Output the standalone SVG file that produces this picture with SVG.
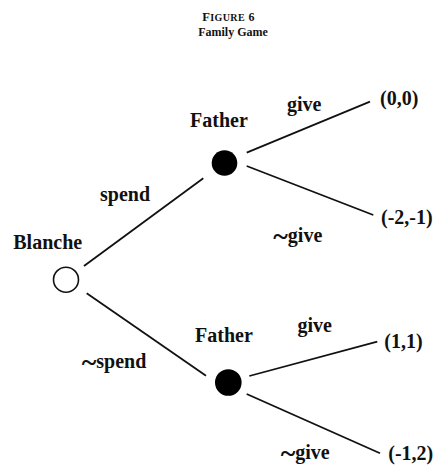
<svg xmlns="http://www.w3.org/2000/svg" width="442" height="469" viewBox="0 0 442 469">
  <style>
    text { font-family: "Liberation Serif", "Times New Roman", serif; font-weight: bold; fill: #111; }
    .lbl { font-size: 20px; }
    .title { font-size: 12px; }
    .edge { stroke: #111; stroke-width: 1.8; fill: none; stroke-linecap: butt; }
    .chance { fill: #fff; stroke: #111; stroke-width: 1.6; }
    .dec { fill: #000; stroke: none; }
    .tl { font-size: 28px; }
  </style>
  <rect width="442" height="469" fill="#fff"/>

  <g id="title">
    <text class="title" x="228.5" y="21" text-anchor="middle" letter-spacing="0.4"><tspan font-size="12.5">F</tspan><tspan font-size="10">IGURE</tspan> 6</text>
    <text class="title" x="233" y="36" text-anchor="middle">Family Game</text>
  </g>

  <g id="connectors">
    <line class="edge" x1="84" y1="266" x2="203.3" y2="178.3"/>
    <line class="edge" x1="86.7" y1="293.3" x2="206" y2="375.7"/>
    <line class="edge" x1="246.7" y1="152.7" x2="370" y2="101.7"/>
    <line class="edge" x1="246.7" y1="166" x2="373.3" y2="215"/>
    <line class="edge" x1="249.3" y1="376" x2="377.3" y2="341.7"/>
    <line class="edge" x1="246.7" y1="394" x2="380" y2="453.3"/>
    <text class="lbl" x="100" y="200.5">spend</text>
    <text class="lbl" x="81.7" y="368.3"><tspan class="tl" dy="3">~</tspan><tspan dy="-3">spend</tspan></text>
    <text class="lbl" x="287" y="110.7">give</text>
    <text class="lbl" x="273.3" y="241.7"><tspan class="tl" dy="3">~</tspan><tspan dy="-3">give</tspan></text>
    <text class="lbl" x="297.5" y="332">give</text>
    <text class="lbl" x="280.7" y="459.3"><tspan class="tl" dy="3">~</tspan><tspan dy="-3">give</tspan></text>
  </g>

  <g id="blanche">
    <circle class="chance" cx="66" cy="279.7" r="12.5"/>
    <text class="lbl" x="47.7" y="249.3" text-anchor="middle">Blanche</text>
  </g>

  <g id="father-top">
    <circle class="dec" cx="224.5" cy="163" r="12.8"/>
    <text class="lbl" x="219" y="126.7" text-anchor="middle">Father</text>
  </g>

  <g id="father-bottom">
    <circle class="dec" cx="228.3" cy="382.5" r="13.3"/>
    <text class="lbl" x="224" y="342.3" text-anchor="middle">Father</text>
  </g>

  <g id="payoff-00">
    <text class="lbl" x="380" y="105">(0,0)</text>
  </g>
  <g id="payoff-m2m1">
    <text class="lbl" x="381" y="224">(-2,-1)</text>
  </g>
  <g id="payoff-11">
    <text class="lbl" x="384.3" y="348.3">(1,1)</text>
  </g>
  <g id="payoff-m12">
    <text class="lbl" x="388.3" y="460">(-1,2)</text>
  </g>
</svg>
